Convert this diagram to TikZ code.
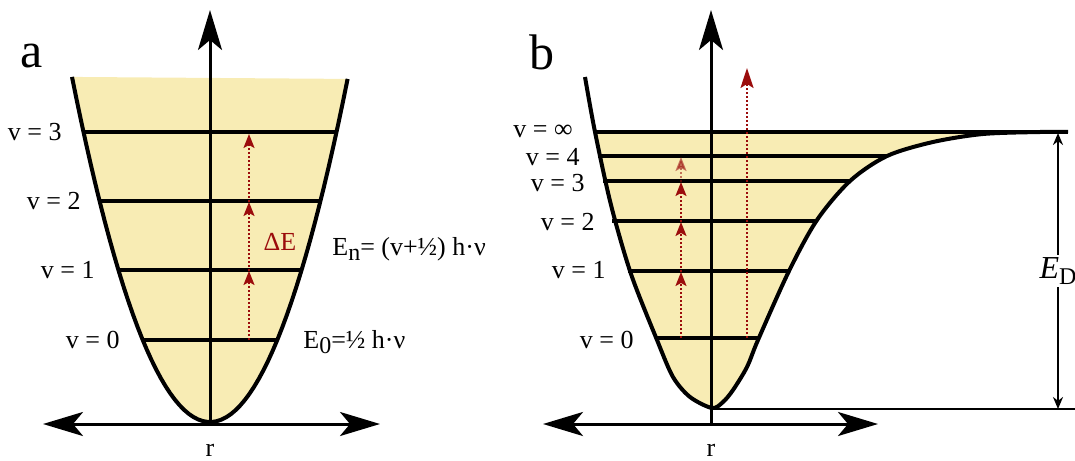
\documentclass[tikz,border=0pt]{standalone}
\usepackage{fontspec}
\setmainfont{LiberationSerif}[Extension=.ttf, UprightFont=*-Regular, ItalicFont=*-Italic, BoldFont=*-Bold]
\usetikzlibrary{arrows.meta}
\definecolor{wellfill}{RGB}{248,236,180}
\definecolor{exred}{RGB}{155,12,12}
\newcommand{\lowsub}[1]{\raisebox{-0.45ex}{\fontsize{12}{12}\selectfont #1}}
\tikzset{bigtip/.tip={Stealth[length=20pt,width=12pt,inset=5pt]}}

\begin{document}
\begin{tikzpicture}[x=0.5pt, y=-0.5pt, >=Stealth,
		every node/.style={font=\fontsize{13}{15}\selectfont},
		axisline/.style={line width=1.5pt},
		well/.style={line width=2pt},
		level/.style={line width=1.7pt},
		lvl/.style={anchor=east, inner sep=0pt},
		excite/.style={exred, line width=1pt, dash pattern=on 1pt off 1pt, -{Stealth[length=7pt,width=5.5pt,inset=1.5pt]}},
		panel/.style={font=\fontsize{25}{25}\selectfont}]
		\useasboundingbox (0,0) rectangle (1075,460);
		% a: harmonic well
		\fill[wellfill] plot[domain=-13.8:13.76, samples=60] ({210+10*\x},{422-1.812*\x*\x}) -- cycle;
		\foreach \y/\v/\xl in {340/0/120, 270/1/95, 201/2/81, 132/3/62} {
			\pgfmathsetmacro{\dx}{10*sqrt((422-\y)/1.812)}
			\draw[level] ({210-\dx},\y) -- ({210+\dx},\y);
			\node[lvl] (av\v) at (\xl,\y) {v = \v};
		}
		\draw[well] plot[domain=-13.8:13.76, samples=60] ({210+10*\x},{422-1.812*\x*\x});
		\draw[axisline, -bigtip] (210,424) -- (210,10);
		\draw[axisline, bigtip-bigtip] (43,424) -- (380,424);
		\coordinate (ea0) at (249,340);
		\coordinate (ea1) at (249,271);
		\coordinate (ea2) at (249,202);
		\coordinate (ea3) at (249,134);
		\draw[excite] (ea0) -- (ea1);
		\draw[excite] (ea1) -- (ea2);
		\draw[excite] (ea2) -- (ea3);
		\node[exred] (dE) at (280,242) {ΔE};
		\node[anchor=base west, inner sep=0pt] (En) at (332,255) {E\lowsub{n}= (v+½) h·ν};
		\node[anchor=base west, inner sep=0pt] (E0) at (303,348) {E\lowsub{0}=½ h·ν};
		\node (ra) at (210,450) {r};
		\node[panel] (pa) at (32,56) {a};
		% b: anharmonic (Morse) well
		\begin{scope}
			\clip (0,132) rectangle (1075,460);
			\fill[wellfill] plot[smooth] coordinates {(585,77) (595,132) (611,205) (631,274) (657,340) (673,377) (690,397) (712,408) (723,402) (733,390) (747,367) (758,340) (789,271) (817,220) (850,181) (887,156) (933,142) (983,134) (1040,132) (1068,132)} -- cycle;
		\end{scope}
		\foreach \y/\xl/\xr in {338/656/759, 271/628/789, 221/612/817, 181/603/850, 156/598/887, 132/595/1068}
			\draw[level] (\xl,\y) -- (\xr,\y);
		\draw[well] plot[smooth] coordinates {(585,77) (595,132) (611,205) (631,274) (657,340) (673,377) (690,397) (712,408) (723,402) (733,390) (747,367) (758,340) (789,271) (817,220) (850,181) (887,156) (933,142) (983,134) (1040,132) (1068,132)};
		\foreach \y/\v/\xl in {340/0/634, 270/1/606, 222/2/595, 183/3/585, 157/4/580, 131/∞/573}
			\node[lvl] (bv\y) at (\xl,\y) {v = \v};
		\draw[axisline, -bigtip] (711,424) -- (711,10);
		\draw[axisline, bigtip-bigtip] (543,424) -- (878,424);
		\coordinate (eb0) at (681,338);
		\coordinate (eb1) at (681,272);
		\coordinate (eb2) at (681,222);
		\coordinate (eb3) at (681,182);
		\coordinate (eb4) at (681,157);
		\draw[excite] (eb0) -- (eb1);
		\draw[excite] (eb1) -- (eb2);
		\draw[excite] (eb2) -- (eb3);
		\draw[excite, opacity=0.55] (eb3) -- (eb4);
		\coordinate (ds0) at (747,338);
		\coordinate (ds1) at (747,68);
		\draw[excite, -{Stealth[length=10pt,width=6.5pt,inset=2pt]}] (ds0) -- (ds1);
		\coordinate (bmin) at (711,409);
		\coordinate (bend) at (1075,409);
		\draw[line width=1pt] (bmin) -- (bend);
		\coordinate (edtop) at (1058,133);
		\coordinate (edbot) at (1058,409);
		\draw[line width=1pt, {Stealth[length=6pt,width=5pt]}-{Stealth[length=6pt,width=5pt]}] (edtop) -- (edbot)
			node[midway, fill=white, inner sep=1pt] (ED) {\fontsize{16}{16}\selectfont\textit{E}\lowsub{D}};
		\node (rb) at (711,450) {r};
		\node[panel] (pb) at (542,52) {b};
	\end{tikzpicture}
\end{document}
